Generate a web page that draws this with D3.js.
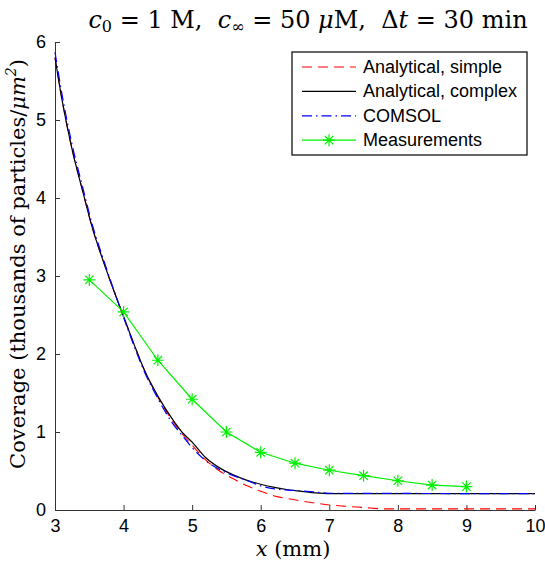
<!DOCTYPE html>
<meta charset="utf-8">
<style>
body { margin: 0; background: #fff; }
.tick text { font-family: "Liberation Sans", Arial, sans-serif; font-size: 18px; fill: #000; }
.mathtext { font-family: "DejaVu Serif", "Liberation Serif", serif; fill: #000; }
path.curve { fill: none; }
</style>
<svg width="545" height="562"></svg>
<script src="https://d3js.org/d3.v7.min.js"></script>
<script>

// Analytical, simple (red dashed)
var simpleX = [3, 3.1, 3.25, 3.4, 3.55, 3.7, 3.85, 4.0, 4.15, 4.3, 4.5, 4.7, 4.85, 5.0, 5.2, 5.4, 5.6, 5.8, 6.0, 6.2, 6.4, 6.6, 6.8, 7.0, 7.2, 7.4, 7.6, 7.8, 10];
var simpleY = [5.8, 5.27, 4.62, 4.1, 3.6, 3.2, 2.83, 2.48, 2.13, 1.8, 1.45, 1.16, 0.98, 0.83, 0.64, 0.5, 0.4, 0.31, 0.24, 0.18, 0.145, 0.115, 0.088, 0.065, 0.05, 0.038, 0.025, 0.015, 0.015];

// Analytical, complex (black solid)
var complexX = [3, 3.1, 3.25, 3.4, 3.55, 3.7, 3.85, 4.0, 4.15, 4.3, 4.5, 4.7, 4.85, 5.0, 5.2, 5.4, 5.6, 5.8, 6.0, 6.2, 6.4, 6.6, 6.8, 7.0, 10];
var complexY = [5.8, 5.27, 4.62, 4.1, 3.6, 3.2, 2.83, 2.48, 2.13, 1.8, 1.46, 1.18, 1.0, 0.87, 0.67, 0.54, 0.45, 0.38, 0.33, 0.29, 0.26, 0.24, 0.22, 0.21, 0.21];

// COMSOL (blue dash-dot)
var comsolX = [3, 3.1, 3.25, 3.4, 3.55, 3.7, 3.85, 4.0, 4.15, 4.3, 4.5, 4.7, 4.85, 5.0, 5.2, 5.4, 5.6, 5.8, 6.0, 6.2, 6.5, 6.8, 7.0, 10];
var comsolY = [5.87, 5.34, 4.68, 4.15, 3.64, 3.23, 2.84, 2.47, 2.11, 1.78, 1.43, 1.13, 0.96, 0.8, 0.63, 0.52, 0.44, 0.38, 0.31, 0.27, 0.25, 0.23, 0.215, 0.21];

// Measurements (green with asterisks)
var measX = [3.5, 4, 4.5, 5, 5.5, 6, 6.5, 7, 7.5, 8, 8.5, 9];
var measY = [2.95, 2.54, 1.92, 1.42, 1.0, 0.74, 0.6, 0.51, 0.44, 0.375, 0.32, 0.3];

var xTicks = [3, 4, 5, 6, 7, 8, 9, 10];
var yTicks = [0, 1, 2, 3, 4, 5, 6];

var svg = d3.select("svg"),
    margin = {top: 42, right: 10, bottom: 52, left: 55},
    width = +svg.attr("width") - margin.left - margin.right,
    height = +svg.attr("height") - margin.top - margin.bottom,
    g = svg.append("g").attr("transform", "translate(" + margin.left + "," + margin.top + ")");

var x = d3.scaleLinear().domain([3, 10]).range([0, width]);
var y = d3.scaleLinear().domain([0, 6]).range([height, 0]);

function zip(xs, ys) { return xs.map(function(d, i) { return [d, ys[i]]; }); }

var smooth = d3.line()
    .curve(d3.curveMonotoneX)
    .x(function(d) { return x(d[0]); })
    .y(function(d) { return y(d[1]); });
var straight = d3.line()
    .x(function(d) { return x(d[0]); })
    .y(function(d) { return y(d[1]); });

var series = [
    {name: "Analytical, simple", pts: zip(simpleX, simpleY), color: "#ff0000", dash: "10,6", w: 1.1},
    {name: "Analytical, complex", pts: zip(complexX, complexY), color: "#000000", dash: null, w: 1.2},
    {name: "COMSOL", pts: zip(comsolX, comsolY), color: "#0000ff", dash: "10,4,1.5,4", w: 1.2},
    {name: "Measurements", pts: zip(measX, measY), color: "#00f000", dash: null, w: 1.2, marker: true}
];

// axes (ticks inside, box off)
g.append("g")
    .attr("transform", "translate(0," + height + ")")
    .call(d3.axisBottom(x).tickValues(xTicks).tickFormat(d3.format("d")).tickSizeInner(-5).tickSizeOuter(0).tickPadding(9))
    .call(function(a) { a.select(".domain").attr("stroke", "#333"); a.selectAll("line").attr("stroke", "#333"); });

g.append("g")
    .call(d3.axisLeft(y).tickValues(yTicks).tickFormat(d3.format("d")).tickSizeInner(-5).tickSizeOuter(0).tickPadding(9))
    .call(function(a) { a.select(".domain").attr("stroke", "#333"); a.selectAll("line").attr("stroke", "#333"); });

g.selectAll("path.curve")
    .data(series)
    .enter().append("path")
    .attr("class", "curve")
    .attr("d", function(d) { return d.marker ? straight(d.pts) : smooth(d.pts); })
    .attr("stroke", function(d) { return d.color; })
    .attr("stroke-width", function(d) { return d.w; })
    .attr("stroke-dasharray", function(d) { return d.dash; });

function star(s) {
    var k = s * 0.7;
    return "M" + (-s) + ",0H" + s + "M0," + (-s) + "V" + s +
        "M" + (-k) + "," + (-k) + "L" + k + "," + k + "M" + (-k) + "," + k + "L" + k + "," + (-k);
}

g.selectAll("path.marker")
    .data(series[3].pts)
    .enter().append("path")
    .attr("class", "marker")
    .attr("transform", function(d) { return "translate(" + x(d[0]) + "," + y(d[1]) + ")"; })
    .attr("d", star(6))
    .attr("stroke", "#00f000")
    .attr("stroke-width", 1.2)
    .attr("fill", "none");

// legend
var lg = svg.append("g").attr("transform", "translate(292,52)");
lg.append("rect").attr("width", 235).attr("height", 103)
    .attr("fill", "#fff").attr("stroke", "#000").attr("stroke-width", 1.2);
var item = lg.selectAll("g.item").data(series).enter().append("g")
    .attr("transform", function(d, i) { return "translate(0," + (15 + 24.4 * i) + ")"; });
item.append("line").attr("x1", 10).attr("x2", 64).attr("y1", 0).attr("y2", 0)
    .attr("stroke", function(d) { return d.color; })
    .attr("stroke-width", function(d) { return d.w; })
    .attr("stroke-dasharray", function(d) { return d.dash; });
item.filter(function(d) { return d.marker; }).append("path")
    .attr("transform", "translate(37,0)").attr("d", star(6))
    .attr("stroke", "#00f000").attr("stroke-width", 1.2);
item.append("text").attr("x", 71).attr("y", 6)
    .attr("font-family", "Liberation Sans, Arial, sans-serif").attr("font-size", 18)
    .text(function(d) { return d.name; });

// title
var title = svg.append("text").attr("class", "mathtext")
    .attr("x", 308).attr("y", 28).attr("text-anchor", "middle").attr("font-size", 24)
    .attr("xml:space", "preserve");
title.append("tspan").attr("font-style", "italic").text("c");
title.append("tspan").attr("font-size", 16).attr("dy", 4).text("0");
title.append("tspan").attr("dy", -4).text(" = 1 M,  ");
title.append("tspan").attr("font-style", "italic").text("c");
title.append("tspan").attr("font-size", 16).attr("dy", 4).text("∞");
title.append("tspan").attr("dy", -4).text(" = 50 ");
title.append("tspan").attr("font-style", "italic").text("μ");
title.append("tspan").text("M,  Δ");
title.append("tspan").attr("font-style", "italic").text("t");
title.append("tspan").text(" = 30 min");

// x label
var xl = svg.append("text").attr("class", "mathtext")
    .attr("x", 293).attr("y", 556).attr("text-anchor", "middle").attr("font-size", 21);
xl.append("tspan").attr("font-style", "italic").text("x");
xl.append("tspan").text(" (mm)");

// y label
var yl = svg.append("text").attr("class", "mathtext")
    .attr("transform", "translate(25,264) rotate(-90)")
    .attr("text-anchor", "middle").attr("font-size", 21);
yl.append("tspan").text("Coverage (thousands of particles/");
yl.append("tspan").attr("font-style", "italic").text("μm");
yl.append("tspan").attr("font-size", 14).attr("dy", -9).attr("font-style", "italic").text("2");
yl.append("tspan").attr("dy", 9).text(")");

</script>
